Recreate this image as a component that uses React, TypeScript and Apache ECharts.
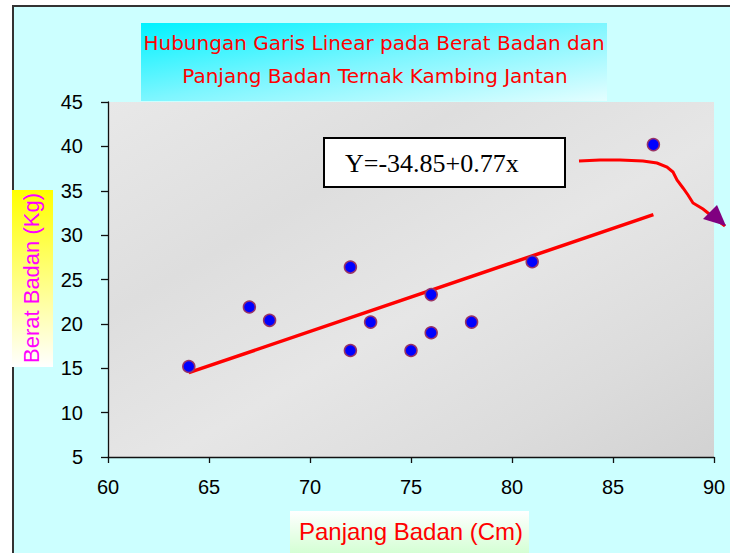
import React, { useEffect, useRef } from "react";
import * as echarts from "echarts";

// Panjang Badan (Cm) vs Berat Badan (Kg)
const lengthCm = [64, 67, 68, 72, 72, 73, 75, 76, 76, 78, 81, 87];
const weightKg = [15.2, 21.9, 20.4, 26.4, 17.0, 20.2, 17.0, 23.3, 19.0, 20.2, 27.0, 40.2];
// regression line end points
const trendX = [64, 87];
const trendY = [14.5, 32.3];

const xMin = 60, xMax = 90, xStep = 5;
const yMin = 5, yMax = 45, yStep = 5;

const titleLines = [
  "Hubungan Garis Linear pada Berat Badan dan",
  "Panjang Badan Ternak Kambing Jantan",
];
const xName = "Panjang Badan (Cm)";
const yName = "Berat Badan (Kg)";
const equation = "Y=-34.85+0.77x";

export default function App() {
  const ref = useRef<HTMLDivElement>(null);
  useEffect(() => {
    if (!ref.current) return;
    const chart = echarts.init(ref.current, null, { renderer: "svg" });
    const sans = "'Liberation Sans', Arial, sans-serif";
    chart.setOption({
      animation: false,
      backgroundColor: "transparent",
      grid: {
        left: 108,
        top: 102,
        right: 16,
        bottom: 96,
        show: true,
        borderWidth: 0,
        backgroundColor: new echarts.graphic.LinearGradient(0, 0, 1, 1, [
          { offset: 0, color: "#e8e8e8" },
          { offset: 0.3, color: "#dedede" },
          { offset: 0.55, color: "#e6e6e6" },
          { offset: 0.8, color: "#dcdcdc" },
          { offset: 1, color: "#d2d2d2" },
        ]),
      },
      xAxis: {
        type: "value",
        min: xMin,
        max: xMax,
        interval: xStep,
        splitLine: { show: false },
        axisLine: { show: true, onZero: false, lineStyle: { color: "#111", width: 1.3 } },
        axisTick: { show: true, inside: false, length: 6, lineStyle: { color: "#111", width: 1.3 } },
        axisLabel: { color: "#000", fontSize: 20, fontFamily: sans, margin: 20 },
      },
      yAxis: {
        type: "value",
        min: yMin,
        max: yMax,
        interval: yStep,
        splitLine: { show: false },
        axisLine: { show: true, onZero: false, lineStyle: { color: "#111", width: 1.3 } },
        axisTick: { show: true, inside: false, length: 7, lineStyle: { color: "#111", width: 1.3 } },
        axisLabel: { color: "#000", fontSize: 20, fontFamily: sans, margin: 25 },
      },
      series: [
        {
          type: "line",
          data: trendX.map((x, i) => [x, trendY[i]]),
          symbol: "none",
          lineStyle: { color: "#ff0000", width: 3.5 },
          z: 2,
        },
        {
          type: "scatter",
          data: lengthCm.map((x, i) => [x, weightKg[i]]),
          symbol: "circle",
          symbolSize: 12,
          itemStyle: { color: "#0000ff", borderColor: "#993366", borderWidth: 1.5, opacity: 1 },
          z: 3,
        },
      ],
      graphic: [
        // title box
        {
          type: "rect",
          shape: { x: 141, y: 23, width: 466, height: 78 },
          style: {
            fill: new echarts.graphic.LinearGradient(0, 0, 1, 1, [
              { offset: 0, color: "#00f2ff" },
              { offset: 0.5, color: "#7ef6ff" },
              { offset: 1, color: "#e4feff" },
            ]),
          },
          z: 1,
        },
        {
          type: "text",
          x: 374,
          y: 43,
          style: {
            text: titleLines[0],
            fill: "#ff0000",
            font: "20px 'DejaVu Sans', sans-serif",
            align: "center",
            verticalAlign: "middle",
          },
          z: 2,
        },
        {
          type: "text",
          x: 375,
          y: 76,
          style: {
            text: titleLines[1],
            fill: "#ff0000",
            font: "20px 'DejaVu Sans', sans-serif",
            align: "center",
            verticalAlign: "middle",
          },
          z: 2,
        },
        // y axis name
        {
          type: "rect",
          shape: { x: 12, y: 190, width: 41, height: 177 },
          style: {
            fill: new echarts.graphic.LinearGradient(0, 0, 0, 1, [
              { offset: 0, color: "#ffff00" },
              { offset: 1, color: "#ffffff" },
            ]),
          },
          z: 1,
        },
        {
          type: "text",
          x: 31,
          y: 278,
          rotation: Math.PI / 2,
          style: {
            text: yName,
            fill: "#ff00ff",
            font: "22px 'Liberation Sans', Arial, sans-serif",
            align: "center",
            verticalAlign: "middle",
          },
          z: 2,
        },
        // x axis name
        {
          type: "rect",
          shape: { x: 290, y: 511, width: 239, height: 50 },
          style: {
            fill: new echarts.graphic.LinearGradient(0, 0, 0, 1, [
              { offset: 0, color: "#ffffff" },
              { offset: 1, color: "#ccffcc" },
            ]),
          },
          z: 1,
        },
        {
          type: "text",
          x: 411,
          y: 531,
          style: {
            text: xName,
            fill: "#ff0000",
            font: "24px 'Liberation Sans', Arial, sans-serif",
            align: "center",
            verticalAlign: "middle",
          },
          z: 2,
        },
        // equation box
        {
          type: "rect",
          shape: { x: 324, y: 138, width: 241, height: 49 },
          style: { fill: "#ffffff", stroke: "#000000", lineWidth: 2 },
          z: 100,
        },
        {
          type: "text",
          x: 345,
          y: 163,
          style: {
            text: equation,
            fill: "#000000",
            font: "26px 'Liberation Serif', 'Times New Roman', serif",
            align: "left",
            verticalAlign: "middle",
          },
          z: 101,
        },
        // arrow
        {
          type: "polyline",
          shape: {
            points: [
              [579, 161], [600, 160], [620, 160], [643, 161], [657, 163], [667, 167],
              [673, 172], [677, 180], [683, 188], [688, 195], [693, 203], [703, 209],
              [713, 217], [725, 226],
            ],
          },
          style: { stroke: "#ff0000", lineWidth: 3, fill: null },
          z: 100,
        },
        {
          type: "polygon",
          shape: { points: [[703, 219], [717, 205], [726, 226]] },
          style: { fill: "#800080" },
          z: 101,
        },
      ],
    });
    return () => chart.dispose();
  }, []);
  return (
    <div style={{ position: "fixed", left: 0, top: 0, width: 730, height: 553, background: "#ffffff" }}>
      <div
        style={{
          position: "absolute",
          left: 12,
          top: 5,
          width: 740,
          height: 560,
          background: "#ccffff",
          borderLeft: "2px solid #333",
          borderTop: "2px solid #333",
        }}
      />
      <div ref={ref} style={{ position: "absolute", left: 0, top: 0, width: 730, height: 553 }} />
    </div>
  );
}
